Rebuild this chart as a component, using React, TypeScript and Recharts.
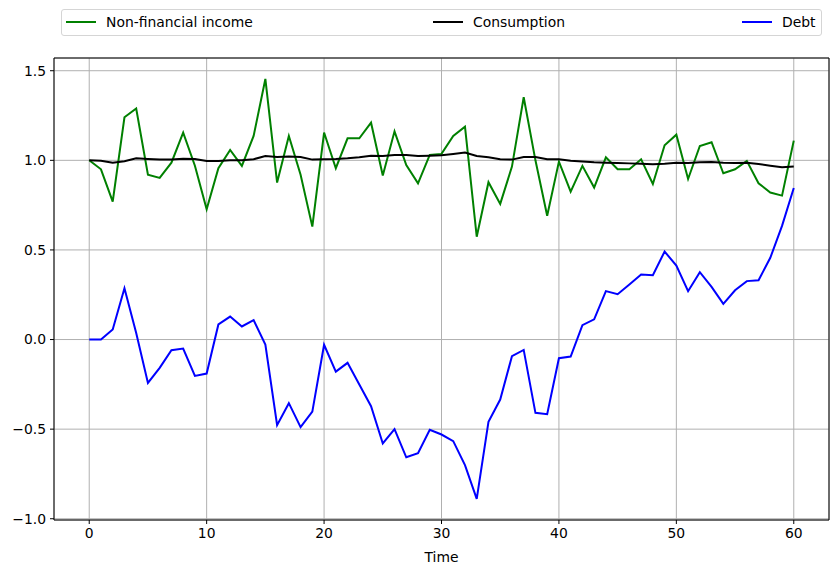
import React from 'react';
import { LineChart, Line, XAxis, YAxis, CartesianGrid, ReferenceLine } from 'recharts';

const time = Array.from({ length: 61 }, (_, i) => i);

const nonFinancialIncome = [
  1.0, 0.95, 0.77, 1.24, 1.289, 0.92, 0.902, 0.987, 1.155, 0.97,
  0.727, 0.956, 1.058, 0.969, 1.136, 1.454, 0.876, 1.136, 0.92, 0.63,
  1.155, 0.956, 1.123, 1.123, 1.21, 0.915, 1.162, 0.974, 0.872, 1.03,
  1.036, 1.136, 1.188, 0.574, 0.878, 0.757, 0.965, 1.352, 1.0, 0.691,
  0.993, 0.825, 0.969, 0.848, 1.017, 0.95, 0.95, 1.006, 0.868, 1.084,
  1.143, 0.896, 1.08, 1.101, 0.928, 0.95, 0.997, 0.872, 0.82, 0.803,
  1.11,
];

const consumption = [
  1.0, 0.998, 0.987, 0.995, 1.011, 1.008, 1.004, 1.004, 1.009, 1.008,
  0.996, 0.996, 1.0, 1.0, 1.006, 1.024, 1.019, 1.022, 1.019, 1.004,
  1.006, 1.007, 1.011, 1.017, 1.026, 1.024, 1.03, 1.03, 1.024, 1.026,
  1.028, 1.035, 1.043, 1.024, 1.017, 1.006, 1.004, 1.019, 1.019, 1.006,
  1.006, 0.998, 0.994, 0.989, 0.987, 0.985, 0.983, 0.981, 0.978, 0.981,
  0.987, 0.985, 0.989, 0.991, 0.987, 0.985, 0.987, 0.98, 0.97, 0.961,
  0.965,
];

const debt = [
  0.0, 0.0, 0.056, 0.286, 0.037, -0.242, -0.158, -0.06, -0.05, -0.203,
  -0.19, 0.084, 0.128, 0.073, 0.108, -0.028, -0.478, -0.355, -0.489, -0.402,
  -0.029, -0.179, -0.13, -0.251, -0.372, -0.58, -0.5, -0.657, -0.634, -0.504,
  -0.53, -0.567, -0.701, -0.889, -0.459, -0.335, -0.093, -0.058, -0.409, -0.417,
  -0.104, -0.095, 0.08, 0.113, 0.27, 0.253, 0.307, 0.363, 0.359, 0.491,
  0.413, 0.27, 0.376, 0.294, 0.199, 0.275, 0.326, 0.331, 0.456, 0.634,
  0.846,
];

const xTicks = [0, 10, 20, 30, 40, 50, 60];
const yTicks = [-1.0, -0.5, 0.0, 0.5, 1.0, 1.5];
const xDomain = [-3, 63];
const yDomain = [-1.007, 1.571];

const seriesInfo = [
  { key: 'income', name: 'Non-financial income', color: '#008000' },
  { key: 'consumption', name: 'Consumption', color: '#000000' },
  { key: 'debt', name: 'Debt', color: '#0000ff' },
];

const data = time.map((t, i) => ({
  t,
  income: nonFinancialIncome[i],
  consumption: consumption[i],
  debt: debt[i],
}));

const FONT = '"DejaVu Sans", sans-serif';
const FS = 13.9;
const fmtY = (v: number) => (v < 0 ? '\u2212' : '') + Math.abs(v).toFixed(1);

// left edge of each legend entry inside the box (matplotlib "expand" mode)
const legendLeft = [4, 371, 680];

const LegendBox = () => (
  <div
    style={{
      position: 'absolute',
      left: 61,
      top: 9,
      width: 761,
      height: 27,
      border: '1px solid #d5d5d5',
      borderRadius: 3,
      boxSizing: 'border-box',
      background: '#fff',
      fontFamily: FONT,
      fontSize: FS,
      color: '#000',
      zIndex: 2,
    }}
  >
    {seriesInfo.map((s, i) => (
      <div
        key={s.key}
        style={{
          position: 'absolute',
          left: legendLeft[i],
          top: 2,
          display: 'flex',
          alignItems: 'center',
          height: 20,
          whiteSpace: 'nowrap',
        }}
      >
        <div style={{ width: 30, height: 2, background: s.color, marginRight: 10 }} />
        <span>{s.name}</span>
      </div>
    ))}
  </div>
);

export default function App() {
  return (
    <div style={{ position: 'fixed', left: 0, top: 0, width: 838, height: 574, background: '#fff' }}>
      <LegendBox />
      <LineChart
        width={838}
        height={574}
        data={data}
        margin={{ top: 58, right: 9, bottom: 0, left: 0 }}
      >
        <CartesianGrid stroke="#b0b0b0" strokeWidth={1} />
        <XAxis
          dataKey="t"
          type="number"
          domain={xDomain}
          ticks={xTicks}
          height={54}
          tickSize={4}
          tickMargin={4}
          stroke="#000"
          tick={{ fill: '#000', fontSize: FS, fontFamily: FONT }}
          label={{ value: 'Time', position: 'insideBottom', offset: 12, fill: '#000', fontSize: FS, fontFamily: FONT }}
        />
        <YAxis
          type="number"
          domain={yDomain}
          ticks={yTicks}
          width={54}
          tickSize={4}
          tickMargin={4}
          tickFormatter={fmtY}
          stroke="#000"
          tick={{ fill: '#000', fontSize: FS, fontFamily: FONT }}
        />
        {seriesInfo.map((s) => (
          <Line
            key={s.key}
            type="linear"
            dataKey={s.key}
            name={s.name}
            stroke={s.color}
            strokeWidth={2}
            dot={false}
            activeDot={false}
            isAnimationActive={false}
          />
        ))}
        {/* top and right spines */}
        <ReferenceLine y={yDomain[1]} stroke="#000" strokeWidth={1} ifOverflow="visible" />
        <ReferenceLine x={xDomain[1]} stroke="#000" strokeWidth={1} ifOverflow="visible" />
      </LineChart>
    </div>
  );
}
